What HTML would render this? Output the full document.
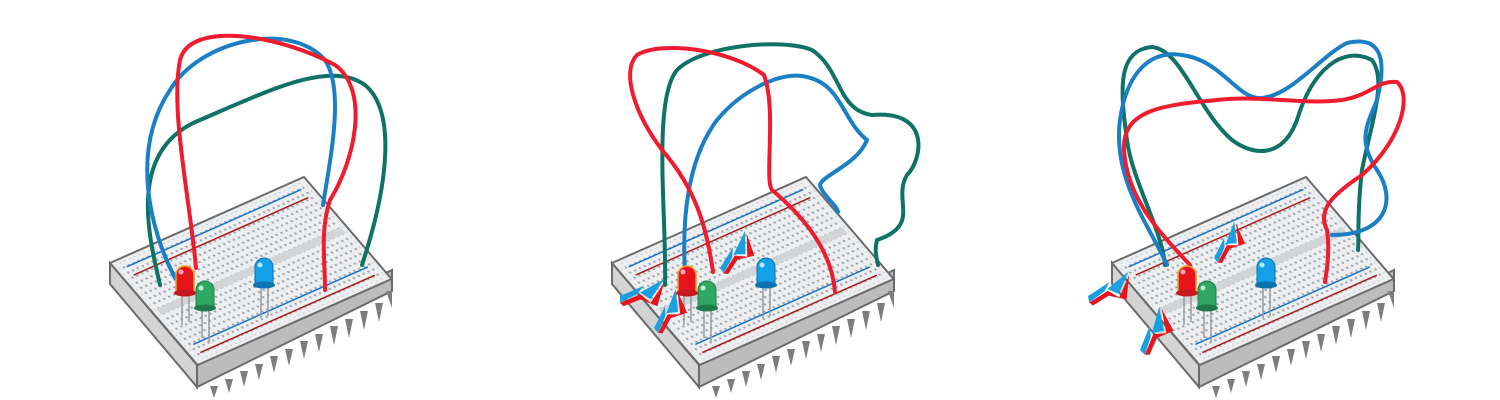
<!DOCTYPE html>
<html><head><meta charset="utf-8"><style>
html,body{margin:0;padding:0;background:#fff;width:1500px;height:400px;overflow:hidden}
svg{display:block}
</style></head><body>
<svg width="1500" height="400" viewBox="0 0 1500 400">
<defs>
  <pattern id="holes" width="1" height="1" patternUnits="userSpaceOnUse">
    <circle cx="0.5" cy="0.5" r="0.2" fill="#9aa3ab"/>
  </pattern>
  <g id="board">
    <polygon points="110,263 197,365 197,387 110,284" fill="#d4d4d4" stroke="#6b6b6b" stroke-width="2"/>
    <polygon points="197,365 392,270 392,291 197,387" fill="#bcbcbc" stroke="#6b6b6b" stroke-width="2"/>
    <g fill="#7d7d7d">
      <polygon points="210,386 218,386 214,398"/><polygon points="225,379 233,379 229,393"/>
      <polygon points="240,371 248,371 244,387"/><polygon points="255,364 263,364 259,380"/>
      <polygon points="270,356 278,356 274,373"/><polygon points="285,349 293,349 289,366"/>
      <polygon points="300,341 308,341 304,359"/><polygon points="315,334 323,334 319,352"/>
      <polygon points="330,326 338,326 334,345"/><polygon points="345,319 353,319 349,338"/>
      <polygon points="360,311 368,311 364,330"/><polygon points="375,303 383,303 379,322"/>
      <polygon points="386,291 392,291 392,308"/>
    </g>
    <g transform="matrix(4.85 -2.15 4.38 5.1 110 263)">
      <rect x="0" y="0" width="40" height="20" fill="#eceef0" stroke="#6b6b6b" stroke-width="2" vector-effect="non-scaling-stroke"/>
      <rect x="0.6" y="0.6" width="38.8" height="18.8" fill="url(#holes)"/>
      <rect x="1" y="9.4" width="38" height="1.2" fill="#d2d4d6"/>
      <line x1="2" y1="1.6" x2="38" y2="1.6" stroke="#1a73c4" stroke-width="1.5" vector-effect="non-scaling-stroke"/>
      <line x1="2" y1="3.2" x2="38" y2="3.2" stroke="#a51d1d" stroke-width="1.5" vector-effect="non-scaling-stroke"/>
      <line x1="2" y1="16.8" x2="38" y2="16.8" stroke="#1a73c4" stroke-width="1.5" vector-effect="non-scaling-stroke"/>
      <line x1="2" y1="18.4" x2="38" y2="18.4" stroke="#a51d1d" stroke-width="1.5" vector-effect="non-scaling-stroke"/>
    </g>
  </g>
  <g id="leds">
    <g stroke="#9a9a9a" stroke-width="1.5">
      <line x1="182" y1="292" x2="182" y2="325"/><line x1="189" y1="292" x2="189" y2="322"/>
      <line x1="202" y1="308" x2="202" y2="338"/><line x1="209" y1="308" x2="209" y2="342"/>
      <line x1="261" y1="286" x2="261" y2="318"/><line x1="268" y1="286" x2="268" y2="316"/>
    </g>
    <path d="M176,293 L176,275 A9,9 0 0 1 194,275 L194,293 Z" fill="#e8141c" stroke="#f0a020" stroke-width="1.5"/>
    <ellipse cx="185" cy="293" rx="11" ry="3.5" fill="#c41a1f"/>
    <circle cx="181" cy="272" r="2.5" fill="#f4a9c4"/>
    <path d="M196,308 L196,290 A9,9 0 0 1 214,290 L214,308 Z" fill="#2fa866" stroke="#1e7a4a"/>
    <ellipse cx="205" cy="308" rx="11" ry="3.5" fill="#1e7a4a"/>
    <circle cx="201" cy="288" r="2.5" fill="#bdf0d0"/>
    <path d="M255,285 L255,267 A9,9 0 0 1 273,267 L273,285 Z" fill="#14a0e6" stroke="#0d72b0"/>
    <ellipse cx="264" cy="285" rx="11" ry="3.5" fill="#0d72b0"/>
    <circle cx="260" cy="265" r="2.5" fill="#b8e8ff"/>
  </g>
  <g id="spark">
    <polygon points="0,0 14,-6 10,-1 26,-10 18,2 12,-2 0,4" fill="#1aa0e0"/>
    <polygon points="0,4 12,-1 18,4 26,-8 22,6 12,2 2,6" fill="#e8141c"/>
  </g>
</defs>

<g>
  <use href="#board"/>
  <g fill="none" stroke-width="4" stroke-linecap="round">
    <path stroke="#0e7264" d="M160,285 C150,240 125,150 200,120 C270,90 330,60 365,85 C395,110 390,180 362,265"/>
    <path stroke="#1a7fc4" d="M175,278 C150,230 130,150 170,90 C200,40 290,20 325,60 C345,90 330,160 323,205"/>
    <path stroke="#ee1c2e" d="M196,268 C190,200 170,110 180,60 C190,20 280,35 335,65 C370,90 355,160 330,200 C320,230 325,260 325,290"/>
  </g>
  <use href="#leds"/>
</g>

<g transform="translate(502,0)">
  <use href="#board"/>
  <g fill="none" stroke-width="4" stroke-linecap="round">
    <path stroke="#0e7264" d="M163,285 C165,220 150,100 175,70 C200,45 280,38 310,50 C340,70 335,110 370,115 C430,110 420,160 405,175 C390,200 420,225 375,240 C372,250 375,260 376,265"/>
    <path stroke="#1a7fc4" d="M183,272 C180,220 185,160 215,120 C240,90 280,70 305,77 C340,85 340,120 365,140 C355,165 320,175 318,185 C320,195 335,205 336,212"/>
    <path stroke="#ee1c2e" d="M211,272 C205,230 195,190 160,150 C130,110 120,70 135,55 C160,40 230,50 262,75 C275,110 262,180 270,190 C300,215 330,250 333,292"/>
  </g>
  <use href="#leds"/>
  <use href="#spark" transform="translate(118,296) scale(1.7)"/>
  <use href="#spark" transform="translate(152,328) rotate(-40) scale(1.6)"/>
  <use href="#spark" transform="translate(218,268) rotate(-35) scale(1.6)"/>
</g>

<g transform="translate(1002,0)">
  <use href="#board"/>
  <g fill="none" stroke-width="4" stroke-linecap="round">
    <path stroke="#0e7264" d="M163,265 C160,230 130,180 125,140 C118,90 115,50 150,47 C180,50 195,110 230,140 C250,155 280,160 295,120 C310,70 340,45 370,60 C385,80 370,120 360,170 C355,210 357,240 356,250"/>
    <path stroke="#1a7fc4" d="M165,265 C150,230 110,180 118,120 C125,70 150,50 180,55 C220,60 235,100 260,98 C290,95 320,55 345,43 C380,35 385,60 375,100 C365,125 355,140 375,170 C395,200 385,235 330,235"/>
    <path stroke="#ee1c2e" d="M188,265 C160,235 125,200 122,150 C120,110 160,105 215,100 C260,95 300,105 340,100 C370,95 375,80 395,82 C410,95 400,140 360,175 C330,195 315,210 325,230 C328,250 325,270 323,282"/>
  </g>
  <use href="#leds"/>
  <use href="#spark" transform="translate(86,296) rotate(-10) scale(1.7)"/>
  <use href="#spark" transform="translate(138,350) rotate(-45) scale(1.7)"/>
  <use href="#spark" transform="translate(212,258) rotate(-40) scale(1.5)"/>
</g>
</svg>
</body></html>
